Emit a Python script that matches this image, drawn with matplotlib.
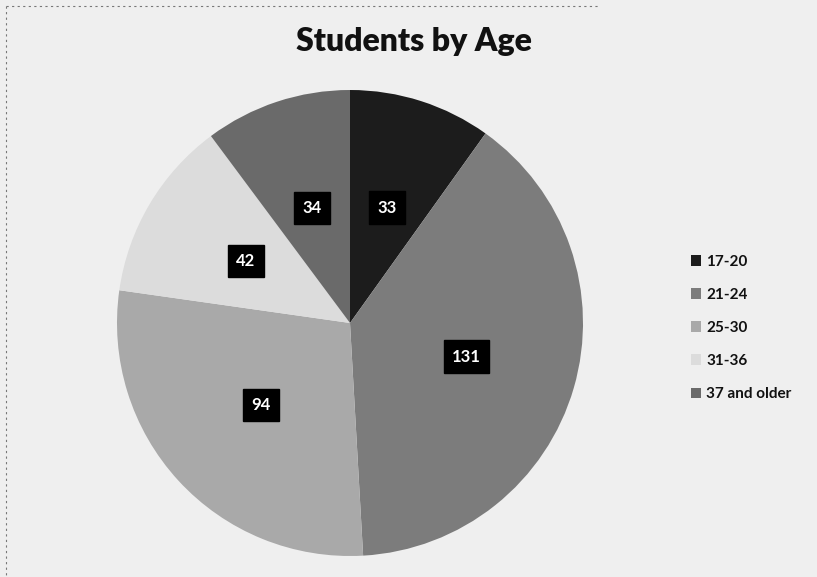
import matplotlib.pyplot as plt
import numpy as np

# data
labels = ["17-20", "21-24", "25-30", "31-36", "37 and older"]
counts = [33, 131, 94, 42, 34]
colors = ["#1c1c1c", "#7c7c7c", "#a9a9a9", "#dcdcdc", "#6a6a6a"]

plt.rcParams['font.family'] = ['Lato', 'DejaVu Sans']

fig = plt.figure(figsize=(8.17, 5.77), dpi=100)
fig.patch.set_facecolor("#efefef")

# pie axes: centre (350, 323) px, radius 233 px
ax = fig.add_axes([117 / 817, 21 / 577, 466 / 817, 466 / 577])
ax.set_facecolor("none")

wedges, _ = ax.pie(counts, colors=colors, startangle=90, counterclock=False,
                   radius=1, wedgeprops=dict(linewidth=0))
ax.set_xlim(-1, 1)
ax.set_ylim(-1, 1)
ax.set_aspect("auto")
ax.axis("off")

# data labels in black boxes
for w, c in zip(wedges, counts):
    mid = np.deg2rad((w.theta1 + w.theta2) / 2)
    x = 0.52 * np.cos(mid)
    y = 0.52 * np.sin(mid)
    ax.text(x, y, str(c), ha="center", va="center", color="white",
            fontsize=12, fontweight="bold",
            bbox=dict(boxstyle="square,pad=0.5", fc="black", ec="black"))

# title
fig.text(414 / 817, 1 - 42 / 577, "Students by Age", ha="center", va="center",
         fontsize=23, fontweight="heavy", color="#111111")

# legend
leg = fig.legend(wedges, labels, loc="center left",
                 bbox_to_anchor=(677 / 817, 1 - 328 / 577),
                 frameon=False, fontsize=11, handlelength=0.7,
                 handleheight=0.7, handletextpad=0.3, labelspacing=1.25)
for t in leg.get_texts():
    t.set_fontweight("bold")
    t.set_color("#111111")

# scanned border (top / left)
fig.add_artist(plt.Line2D([6 / 817, 600 / 817], [1 - 6 / 577, 1 - 6 / 577],
                          color="#777777", lw=0.8, ls=(0, (2, 3))))
fig.add_artist(plt.Line2D([6 / 817, 6 / 817], [1 - 6 / 577, 0],
                          color="#777777", lw=0.8, ls=(0, (2, 3))))

fig.savefig("out.png", dpi=100, facecolor=fig.get_facecolor())
